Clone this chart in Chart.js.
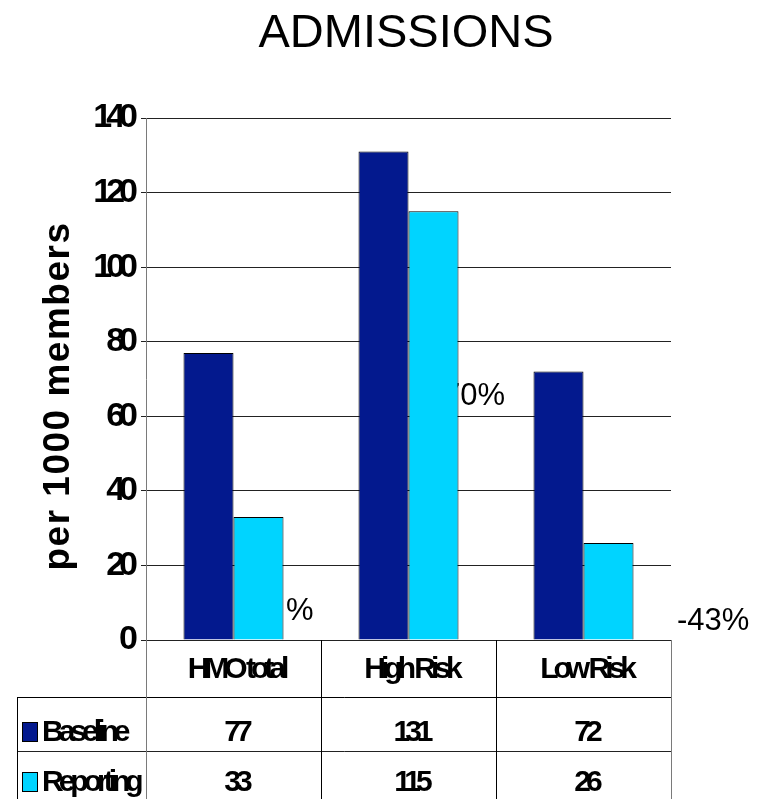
<!DOCTYPE html>
<html>
<head>
<meta charset="utf-8">
<title>ADMISSIONS</title>
<script src="https://cdn.jsdelivr.net/npm/chart.js@4/dist/chart.umd.min.js"></script>
<style>
  html, body { margin: 0; padding: 0; background: #ffffff; }
  canvas { display: block; }
</style>
</head>
<body>
<canvas id="chart" width="761" height="799"></canvas>
<script>
// ---- data ----
const categories = ['HMO total', 'High Risk', 'Low Risk'];
const seriesNames = ['Baseline', 'Reporting'];
const baselineValues = [77, 131, 72];
const reportingValues = [33, 115, 26];
const yTickValues = [0, 20, 40, 60, 80, 100, 120, 140];
const changeLabels = ['%', '70%', '-43%'];
const chartTitle = 'ADMISSIONS';
const yAxisTitle = 'per 1000 members';

// ---- styling ----
const FONT = '"Liberation Sans", Arial, Helvetica, sans-serif';
const seriesColors = ['#03198e', '#00d4ff'];
const seriesValues = [baselineValues, reportingValues];

const crisp = v => Math.round(v) + 0.5;

function line(ctx, x1, y1, x2, y2, color) {
  ctx.strokeStyle = color;
  ctx.lineWidth = 1;
  ctx.beginPath();
  ctx.moveTo(x1, y1);
  ctx.lineTo(x2, y2);
  ctx.stroke();
}

// Condensed bold lettering for the value axis, plus the free-floating
// percentage notes (drawn under the bars), the title, axis title and data table.
const decorations = {
  id: 'decorations',
  beforeDraw(chart) {
    chart.ctx.letterSpacing = '-6px';
  },
  beforeDatasetsDraw(chart) {
    const ctx = chart.ctx;
    ctx.letterSpacing = '0px';
    ctx.save();
    ctx.fillStyle = '#000';
    ctx.textAlign = 'left';
    ctx.textBaseline = 'alphabetic';
    ctx.font = '31px ' + FONT;
    const spots = [[286, 620], [443, 405], [677, 630]];
    changeLabels.forEach((t, i) => ctx.fillText(t, spots[i][0], spots[i][1]));
    ctx.restore();
  },
  afterDraw(chart) {
    const ctx = chart.ctx;
    const ca = chart.chartArea;
    const x = chart.scales.x;
    ctx.save();
    ctx.letterSpacing = '0px';

    // title
    ctx.fillStyle = '#000';
    ctx.font = '47px ' + FONT;
    ctx.textAlign = 'center';
    ctx.textBaseline = 'alphabetic';
    ctx.fillText(chartTitle, 406, 47);

    // value axis title
    ctx.save();
    ctx.translate(69, 396);
    ctx.rotate(-Math.PI / 2);
    ctx.font = 'bold 37px ' + FONT;
    ctx.letterSpacing = '1.5px';
    ctx.fillText(yAxisTitle, 0, 0);
    ctx.restore();

    // data table under the plot
    const colW = (ca.right - ca.left) / categories.length;
    const edges = categories.map((_, i) => ca.left + i * colW).concat([ca.right]);
    const top = ca.bottom;
    const headBottom = top + 57;
    const rowBottom = headBottom + 54;
    const tableLeft = 17;
    const bottom = chart.height;

    line(ctx, tableLeft, crisp(headBottom), crisp(ca.right), crisp(headBottom), '#000');
    line(ctx, tableLeft, crisp(rowBottom), crisp(ca.right), crisp(rowBottom), '#222');
    line(ctx, crisp(tableLeft), headBottom, crisp(tableLeft), bottom, '#000');
    edges.forEach((ex, i) => {
      const outer = i === 0 || i === edges.length - 1;
      line(ctx, crisp(ex), top, crisp(ex), bottom, outer ? '#7a7a7a' : '#000');
    });

    ctx.font = 'bold 30px ' + FONT;
    ctx.letterSpacing = '-5px';
    ctx.fillStyle = '#000';
    ctx.textAlign = 'center';
    categories.forEach((c, i) => {
      const cx = x.getPixelForValue(i) + 2.5;
      ctx.fillText(c, cx, top + 38);
      ctx.fillText(String(baselineValues[i]), cx, headBottom + 44);
      ctx.fillText(String(reportingValues[i]), cx, rowBottom + 40);
    });

    // series keys
    ctx.textAlign = 'left';
    const rowBase = [headBottom + 44, rowBottom + 40];
    const keyTop = [headBottom + 25, rowBottom + 21];
    seriesNames.forEach((name, i) => {
      ctx.fillStyle = seriesColors[i];
      ctx.fillRect(22, keyTop[i], 15, 19);
      ctx.strokeStyle = '#000';
      ctx.lineWidth = 1;
      ctx.strokeRect(22.5, keyTop[i] + 0.5, 15, 19);
      ctx.fillStyle = '#000';
      ctx.fillText(name, 42, rowBase[i]);
    });

    ctx.restore();
  }
};

new Chart(document.getElementById('chart'), {
  type: 'bar',
  data: {
    labels: categories,
    datasets: seriesNames.map((name, i) => ({
      label: name,
      data: seriesValues[i],
      backgroundColor: seriesColors[i],
      borderColor: '#000000',
      borderWidth: 1,
      categoryPercentage: 100 / 175,
      barPercentage: 1
    }))
  },
  options: {
    responsive: false,
    animation: false,
    devicePixelRatio: 1,
    layout: { padding: { left: 0, top: 118, right: 90, bottom: 159 } },
    plugins: {
      legend: { display: false },
      title: { display: false },
      tooltip: { enabled: false }
    },
    scales: {
      x: { display: false },
      y: {
        min: 0,
        max: 140,
        afterFit(scale) { scale.width = 146; },
        afterBuildTicks(scale) { scale.ticks = yTickValues.map(v => ({ value: v })); },
        ticks: {
          padding: 9,
          color: '#000',
          font: { family: FONT, size: 34, weight: 'bold' }
        },
        grid: { color: '#222', lineWidth: 1, tickLength: 5, drawTicks: true },
        border: { display: true, color: '#7a7a7a', width: 1 }
      }
    }
  },
  plugins: [decorations]
});
</script>
</body>
</html>
